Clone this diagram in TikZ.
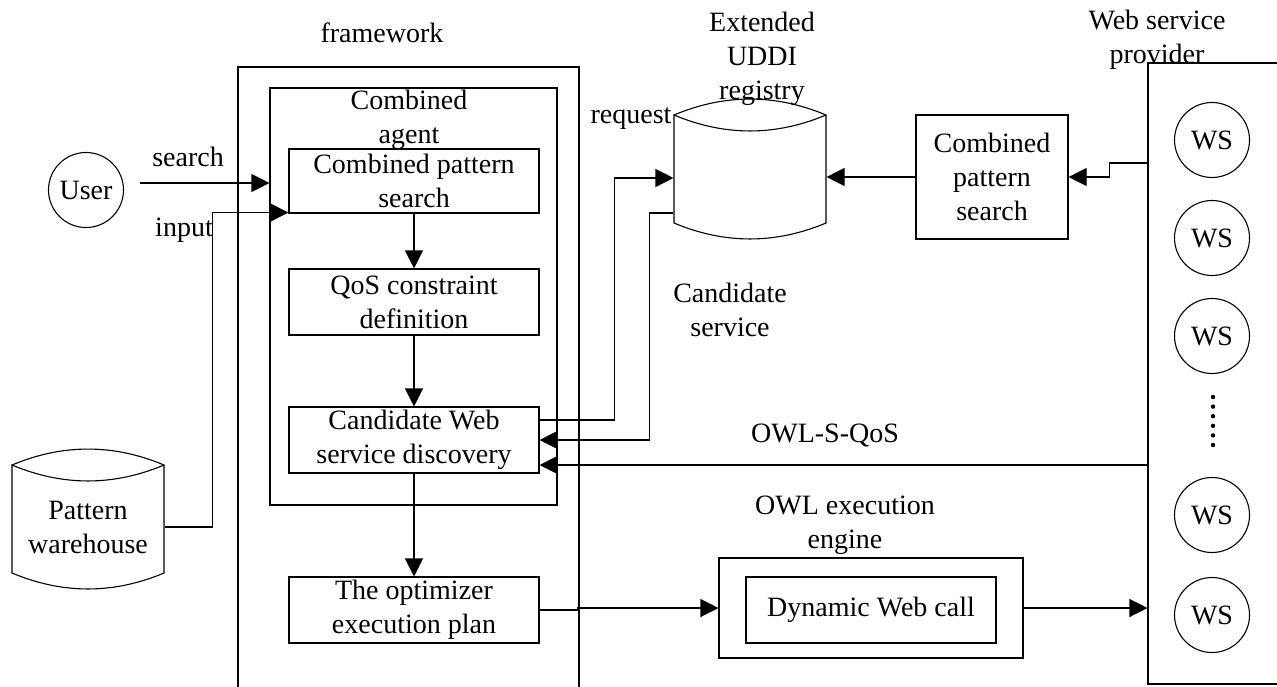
\documentclass[tikz,border=0pt]{standalone}
\usepackage{fontspec}
\setmainfont{Liberation Serif}
\usetikzlibrary{arrows.meta}
\tikzset{
        % Process boxes
        node_proc/.style={draw, rectangle, align=center, inner sep=0pt, minimum width=125pt, minimum height=33pt},
        % Round nodes (user, web services)
        node_ws/.style={draw, circle, inner sep=0pt, minimum size=37.5pt},
        % Plain labels
        node_label/.style={align=center, inner sep=0pt},
        % Connectors
        edge_flow/.style={-{Triangle[length=9pt,width=9pt]}}
}
% database can: left x, right x, top corner y, bottom corner y, arc depth
\newcommand{\dbcan}[5]{%
  \draw (#1,#3) .. controls ({#1+(#2-#1)/3},{#3-1.33*#5}) and ({#2-(#2-#1)/3},{#3-1.33*#5}) .. (#2,#3)
        .. controls ({#2-(#2-#1)/3},{#3+1.33*#5}) and ({#1+(#2-#1)/3},{#3+1.33*#5}) .. (#1,#3)
        -- (#1,#4) .. controls ({#1+(#2-#1)/3},{#4+1.33*#5}) and ({#2-(#2-#1)/3},{#4+1.33*#5}) .. (#2,#4)
        -- (#2,#3);}

\begin{document}
\begin{tikzpicture}[
            x=0.5pt, y=-0.5pt,
            line width=0.55pt,
            every node/.style={font=\fontsize{14}{17}\selectfont}
        ]
            \useasboundingbox (0,0) rectangle (1277,686);

            % framework
            \node[node_label] (fw_label) at (382,33) {framework};
            \draw (238,690) -- (238,67) -- (579,67) -- (579,690);
            \node[draw, inner sep=0pt, minimum width=143.5pt, minimum height=208.5pt] (agent) at (413.5,296.5) {};
            \node[node_label] (agent_label) at (409,120) {Combined\\agent};
            \node[node_proc, minimum height=32pt] (cps) at (414,181) {Combined pattern\\search};
            \node[node_proc] (qos) at (414,302) {QoS constraint\\definition};
            \node[node_proc] (cand) at (414,440) {Candidate Web\\service discovery};
            \node[node_proc] (optim) at (414,610) {The optimizer\\execution plan};
            \draw[edge_flow] (cps) -- (qos);
            \draw[edge_flow] (qos) -- (cand);
            \draw[edge_flow] (cand) -- (optim);

            % user and pattern warehouse
            \node[node_ws] (user) at (86,190) {User};
            \node[node_label] (search_label) at (188,157) {search};
            \node[node_label] (input_label) at (184,230) {input};
            \dbcan{12}{164}{465}{573}{16}
            \node[node_label, minimum width=76pt, minimum height=54pt] (warehouse) at (88,527) {Pattern\\warehouse};
            \coordinate (search_start) at (140,183);
            \draw[edge_flow] (search_start) -- (search_start -| agent.west);
            \draw[edge_flow] (warehouse.east) -- ++(48,0) |- ([yshift=0.5pt]cps.south west);

            % extended UDDI registry
            \dbcan{674}{826}{115}{223}{16}
            \node[minimum width=76pt, minimum height=60pt] (uddi) at (750,175) {};
            \node[node_label] (uddi_label) at (762,59) {Extended\\UDDI\\registry};
            \node[node_label, anchor=east] (request_label) at (672,119) {request};
            \node[node_label] (cands_label) at (730,310) {Candidate\\service};
            \draw[edge_flow] ([yshift=10pt]cand.east) -- ++(75,0) |- (uddi.west |- 0,178);
            \draw[edge_flow] (uddi.west |- 0,213) -- ++(-24,0) |- (cand.east);

            % web service provider
            \node[draw, inner sep=0pt, minimum width=82pt, minimum height=310.5pt] (provider) at (1230,373.5) {};
            \node[node_label] (prov_label) at (1157,40) {Web service\\provider};
            \foreach \wy [count=\i] in {140,238,336,515,615}
                \node[node_ws] (ws\i) at (1212,\wy) {WS};
            \foreach \k in {0,...,5}
                \fill (1213,{397+\k*9.6}) circle (1.1pt);
            \node[node_proc, minimum width=76pt, minimum height=62pt] (cps_right) at (992,177) {Combined\\pattern\\search};
            \draw[edge_flow] (provider.west |- 0,163) -- ++(-38,0) |- (cps_right.east);
            \draw[edge_flow] (cps_right.west) -- (cps_right.west -| uddi.east);
            \node[node_label] (owlsq_label) at (825,435) {OWL-S-QoS};
            \draw[edge_flow] (provider.west |- 0,465) -- ([yshift=-12.5pt]cand.east);

            % OWL execution engine
            \node[draw, inner sep=0pt, minimum width=152pt, minimum height=50pt] (owl) at (871,608) {};
            \node[node_proc] (dyncall) at (871,610) {Dynamic Web call};
            \node[node_label] (owl_label) at (845,525) {OWL execution\\engine};
            \draw[edge_flow] (optim.east) -- ++(38,0) |- (owl.west);
            \draw[edge_flow] (owl.east) -- (provider.west |- owl.east);
\end{tikzpicture}
\end{document}
